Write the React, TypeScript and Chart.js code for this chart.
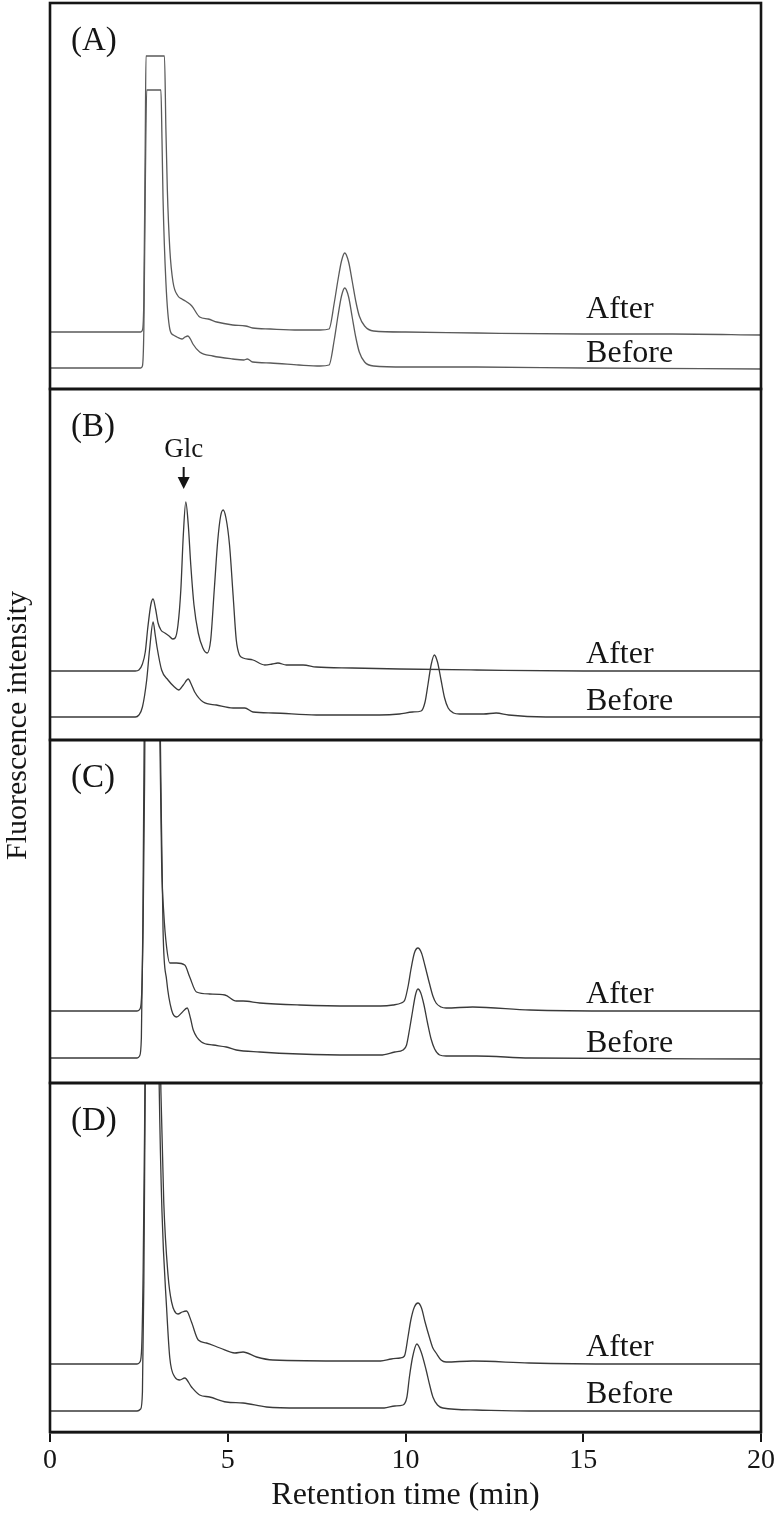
import React, { useEffect, useRef } from 'react';
import { Chart, registerables } from 'chart.js';

Chart.register(...registerables);

const FONT = '"Liberation Serif", "Times New Roman", serif';
const INK = '#151515';
const TRACE = '#3a3a3a';

// ---- axis / labels ----
const X_TICKS = [0, 5, 10, 15, 20];
const PANEL_LETTERS = ['(A)', '(B)', '(C)', '(D)'];
const PANEL_IDS = ['yA', 'yB', 'yC', 'yD'];
const PANEL_MAX = [386, 351, 343, 349];
const SERIES_NAMES = ['After', 'Before'];
const LABEL_T = 15.08;
const AFTER_LABEL_V = [71, 77, 80, 76];
const BEFORE_LABEL_V = [27, 30, 31, 29];
const GLC_T = 3.76;
const GLC_V = [283, 273, 251]; // text baseline, arrow start, arrow tip

// ---- traces: [time (min), intensity] ----
const A_AFTER: [number, number][] = [
  [0, 57], [1.5, 57], [2.55, 57], [2.6, 59], [2.64, 90], [2.68, 250], [2.7, 333], [3.22, 333],
  [3.26, 260], [3.3, 200], [3.37, 140], [3.46, 107], [3.6, 93], [3.71, 90], [3.85, 87], [3.99, 83],
  [4.21, 72], [4.45, 70], [4.69, 67], [5.14, 64], [5.5, 63], [5.7, 61], [6.2, 60], [7.0, 59],
  [7.6, 59], [7.85, 60], [8.0, 87], [8.1, 109], [8.2, 128], [8.29, 136], [8.4, 127], [8.5, 108],
  [8.6, 88], [8.7, 73], [8.85, 63], [9.1, 58], [10, 57], [12, 56], [15, 55], [17.5, 55], [20, 54],
];
const A_BEFORE: [number, number][] = [
  [0, 21], [1.5, 21], [2.55, 21], [2.6, 23], [2.64, 60], [2.68, 200], [2.72, 299], [3.12, 299],
  [3.15, 250], [3.18, 190], [3.26, 107], [3.37, 60], [3.47, 54], [3.57, 52], [3.71, 50], [3.8, 52],
  [3.88, 53], [3.95, 50], [4.02, 45], [4.21, 37], [4.58, 33], [5.14, 30], [5.45, 29], [5.55, 30],
  [5.7, 27], [6.2, 26], [7.0, 24], [7.6, 23], [7.85, 24], [8.0, 50], [8.1, 73], [8.2, 93],
  [8.29, 101], [8.4, 92], [8.5, 72], [8.6, 52], [8.7, 37], [8.85, 27], [9.1, 23], [10, 22],
  [12, 22], [15, 21], [20, 20],
];
const B_AFTER: [number, number][] = [
  [0, 69], [2.4, 69], [2.5, 70], [2.6, 76], [2.68, 88], [2.75, 112], [2.84, 136], [2.9, 141],
  [2.97, 131], [3.04, 117], [3.12, 110], [3.23, 107], [3.35, 104], [3.45, 101], [3.52, 102],
  [3.6, 115], [3.68, 150], [3.75, 205], [3.82, 238], [3.89, 215], [3.96, 175], [4.05, 135],
  [4.17, 107], [4.3, 92], [4.42, 87], [4.52, 100], [4.62, 150], [4.72, 200], [4.8, 224],
  [4.87, 230], [4.95, 222], [5.05, 195], [5.15, 145], [5.24, 100], [5.33, 85], [5.43, 82],
  [5.71, 80], [6.04, 75], [6.25, 76], [6.41, 77], [6.65, 75], [7.12, 75], [7.49, 73], [8.5, 72],
  [9.83, 71], [12, 70], [15, 69], [20, 69],
];
const B_BEFORE: [number, number][] = [
  [0, 23], [2.4, 23], [2.5, 25], [2.6, 33], [2.72, 60], [2.8, 90], [2.9, 118], [2.96, 105],
  [3.01, 93], [3.14, 70], [3.32, 60], [3.5, 53], [3.62, 50], [3.75, 55], [3.89, 61], [3.97, 56],
  [4.07, 48], [4.31, 38], [4.68, 35], [5.15, 32], [5.48, 32], [5.71, 28], [6.27, 27], [7.49, 25],
  [9.27, 25], [9.83, 26], [10.2, 28], [10.44, 29], [10.55, 38], [10.63, 55], [10.72, 75],
  [10.81, 85], [10.9, 78], [11.0, 60], [11.1, 42], [11.2, 32], [11.35, 27], [11.52, 26],
  [12.2, 26], [12.55, 27], [12.9, 25], [13.95, 23], [20, 23],
];
const C_AFTER: [number, number][] = [
  [0, 72], [2.45, 72], [2.53, 74], [2.58, 90], [2.62, 160], [2.66, 300], [2.7, 500], [2.9, 900],
  [3.04, 500], [3.09, 350], [3.14, 220], [3.2, 170], [3.28, 136], [3.37, 120], [3.56, 120],
  [3.79, 118], [3.93, 106], [4.12, 91], [4.49, 89], [4.92, 88], [5.24, 82], [5.43, 82], [5.9, 80],
  [7.02, 78], [8.5, 77], [9.3, 77], [9.65, 78], [9.88, 80], [9.98, 83], [10.08, 98], [10.15, 113],
  [10.25, 130], [10.35, 135], [10.45, 130], [10.55, 117], [10.67, 100], [10.77, 87], [10.86, 80],
  [11.0, 76], [11.14, 75], [11.89, 76], [13.5, 73], [16, 72], [20, 72],
];
const C_BEFORE: [number, number][] = [
  [0, 25], [2.45, 25], [2.52, 27], [2.57, 45], [2.61, 150], [2.65, 350], [2.85, 900], [3.05, 500],
  [3.12, 300], [3.18, 153], [3.28, 103], [3.42, 73], [3.56, 66], [3.7, 70], [3.86, 75], [3.95, 65],
  [4.03, 53], [4.26, 41], [4.59, 38], [4.96, 36], [5.24, 33], [5.9, 31], [7.02, 29], [8.5, 28],
  [9.3, 28], [9.7, 31], [9.93, 33], [10.03, 38], [10.12, 55], [10.2, 72], [10.28, 88],
  [10.35, 94], [10.43, 90], [10.52, 78], [10.62, 60], [10.72, 44], [10.82, 34], [10.96, 28],
  [11.14, 27], [12, 27], [13.5, 25], [20, 24],
];
const D_AFTER: [number, number][] = [
  [0, 68], [2.45, 68], [2.53, 70], [2.58, 85], [2.62, 160], [2.66, 300], [2.7, 500], [2.9, 900],
  [3.05, 500], [3.12, 340], [3.2, 230], [3.32, 157], [3.42, 130], [3.6, 118], [3.72, 120],
  [3.84, 121], [3.98, 110], [4.17, 92], [4.4, 89], [4.78, 84], [5.2, 79], [5.43, 80], [5.81, 75],
  [6.27, 72], [8.43, 71], [9.3, 71], [9.6, 73], [9.85, 74], [9.97, 76], [10.07, 95], [10.15, 112],
  [10.25, 125], [10.35, 129], [10.45, 124], [10.55, 110], [10.67, 95], [10.77, 84], [10.86, 79],
  [11.0, 72], [11.14, 70], [11.89, 71], [13.48, 69], [16, 68], [20, 68],
];
const D_BEFORE: [number, number][] = [
  [0, 21], [2.45, 21], [2.55, 23], [2.6, 40], [2.64, 150], [2.68, 350], [2.85, 900], [3.02, 500],
  [3.07, 349], [3.15, 220], [3.28, 124], [3.37, 74], [3.51, 55], [3.65, 52], [3.79, 54],
  [3.98, 45], [4.21, 37], [4.49, 35], [4.96, 30], [5.43, 29], [6.09, 25], [7.02, 24], [8.43, 24],
  [9.4, 24], [9.7, 26], [9.93, 27], [10.04, 35], [10.11, 55], [10.2, 75], [10.32, 88],
  [10.44, 80], [10.58, 62], [10.68, 47], [10.77, 35], [10.9, 27], [11.05, 24], [12, 22],
  [13.48, 21], [20, 21],
];

const TRACES: [number, number][][][] = [
  [A_AFTER, A_BEFORE],
  [B_AFTER, B_BEFORE],
  [C_AFTER, C_BEFORE],
  [D_AFTER, D_BEFORE],
];

const framePlugin = {
  id: 'panelFrames',
  afterDraw(chart: any) {
    const ctx = chart.ctx as CanvasRenderingContext2D;
    const { left, right, top, bottom } = chart.chartArea;
    const xs = chart.scales.x;
    ctx.save();
    ctx.strokeStyle = INK;
    ctx.fillStyle = INK;
    ctx.lineWidth = 2.6;
    PANEL_IDS.forEach((id, i) => {
      const s = chart.scales[id];
      ctx.strokeRect(left, s.top, right - left, s.bottom - s.top);
      ctx.textAlign = 'left';
      ctx.textBaseline = 'alphabetic';
      ctx.font = `33px ${FONT}`;
      ctx.fillText(PANEL_LETTERS[i], left + 21, s.top + 47);
      ctx.font = `32px ${FONT}`;
      const lx = xs.getPixelForValue(LABEL_T);
      ctx.fillText(SERIES_NAMES[0], lx, s.getPixelForValue(AFTER_LABEL_V[i]));
      ctx.fillText(SERIES_NAMES[1], lx, s.getPixelForValue(BEFORE_LABEL_V[i]));
    });
    // Glc annotation
    const sB = chart.scales.yB;
    const gx = xs.getPixelForValue(GLC_T);
    ctx.font = `27px ${FONT}`;
    ctx.textAlign = 'center';
    ctx.fillText('Glc', gx, sB.getPixelForValue(GLC_V[0]));
    const y1 = sB.getPixelForValue(GLC_V[1]);
    const tip = sB.getPixelForValue(GLC_V[2]);
    ctx.lineWidth = 2;
    ctx.beginPath();
    ctx.moveTo(gx, y1);
    ctx.lineTo(gx, tip - 6);
    ctx.stroke();
    ctx.beginPath();
    ctx.moveTo(gx - 6, tip - 12);
    ctx.lineTo(gx + 6, tip - 12);
    ctx.lineTo(gx, tip);
    ctx.closePath();
    ctx.fill();
    // shared y title
    ctx.save();
    ctx.translate(18, (top + bottom) / 2 + 8);
    ctx.rotate(-Math.PI / 2);
    ctx.font = `30px ${FONT}`;
    ctx.textAlign = 'center';
    ctx.textBaseline = 'middle';
    ctx.fillText('Fluorescence intensity', 0, 0);
    ctx.restore();
    ctx.restore();
  },
};

function yScale(max: number, weight: number) {
  return {
    type: 'linear',
    position: 'left',
    stack: 'panels',
    stackWeight: max,
    weight,
    min: 0,
    max,
    display: true,
    ticks: { display: false },
    grid: { display: false, drawTicks: false },
    border: { display: false },
    afterFit: (s: any) => {
      s.width = 0;
    },
  };
}

export default function App() {
  const ref = useRef<HTMLCanvasElement>(null);
  useEffect(() => {
    if (!ref.current) return;
    const datasets: any[] = [];
    TRACES.forEach((pair, i) => {
      pair.forEach((trace, j) => {
        datasets.push({
          label: `${PANEL_LETTERS[i]} ${SERIES_NAMES[j]}`,
          data: trace.map(([x, y]) => ({ x, y })),
          yAxisID: PANEL_IDS[i],
          xAxisID: 'x',
          borderColor: i === 0 ? '#5a5a5a' : TRACE,
          borderWidth: 1.3,
          pointRadius: 0,
          fill: false,
          cubicInterpolationMode: 'monotone',
        });
      });
    });
    const scales: any = {
      x: {
        type: 'linear',
        position: 'bottom',
        min: 0,
        max: 20,
        afterBuildTicks: (s: any) => {
          s.ticks = X_TICKS.map((v) => ({ value: v }));
        },
        ticks: { font: { family: FONT, size: 28 }, color: INK, padding: 2, maxRotation: 0 },
        grid: { display: true, drawOnChartArea: false, drawTicks: true, tickLength: 10, color: INK, lineWidth: 2 },
        border: { display: true, color: INK, width: 2.6 },
        title: {
          display: true,
          text: 'Retention time (min)',
          font: { family: FONT, size: 32 },
          color: INK,
          padding: { top: 0, bottom: 4 },
        },
        afterFit: (s: any) => {
          s.height = 87;
        },
      },
    };
    PANEL_IDS.forEach((id, i) => {
      scales[id] = yScale(PANEL_MAX[i], 4 - i);
    });
    const chart = new Chart(ref.current, {
      type: 'line',
      data: { datasets },
      options: {
        responsive: false,
        animation: false,
        parsing: true,
        layout: { padding: { left: 50, right: 15, top: 3, bottom: 0 } },
        plugins: { legend: { display: false }, tooltip: { enabled: false } },
        scales,
      } as any,
      plugins: [framePlugin],
    });
    return () => chart.destroy();
  }, []);
  return (
    <div style={{ position: 'fixed', left: 0, top: 0, width: 777, height: 1519, background: '#fff' }}>
      <canvas ref={ref} width={777} height={1519} style={{ width: 777, height: 1519 }} />
    </div>
  );
}
